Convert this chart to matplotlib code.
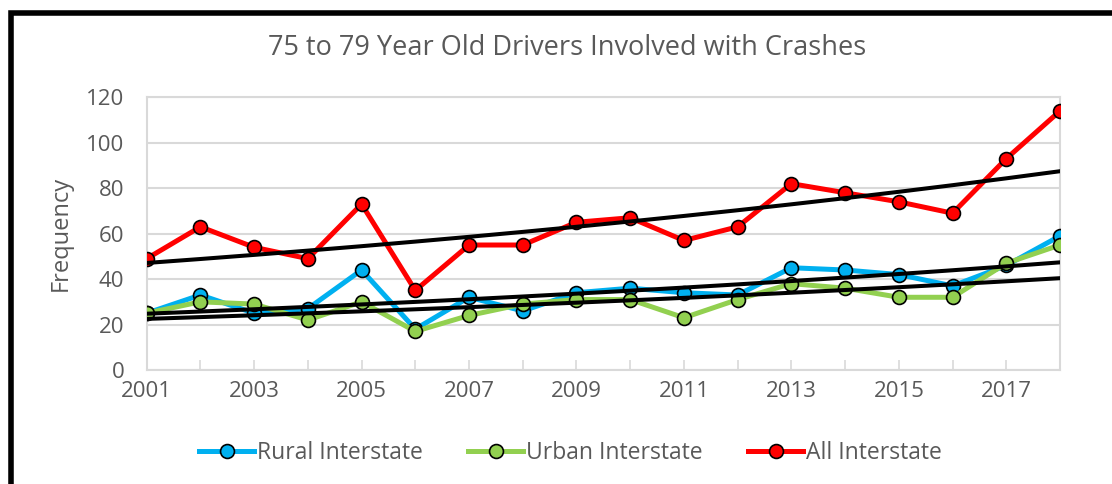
import numpy as np
import matplotlib.pyplot as plt
from matplotlib.patches import Rectangle

# 75 to 79 year old drivers involved with crashes, by interstate type

years = np.arange(2001, 2019)
rural = [25, 33, 25, 27, 44, 18, 32, 26, 34, 36, 34, 33, 45, 44, 42, 37, 46, 59]
urban = [25, 30, 29, 22, 30, 17, 24, 29, 31, 31, 23, 31, 38, 36, 32, 32, 47, 55]
total = [49, 63, 54, 49, 73, 35, 55, 55, 65, 67, 57, 63, 82, 78, 74, 69, 93, 114]

series = [
    ("Rural Interstate", rural, "#00B0F0"),
    ("Urban Interstate", urban, "#92D050"),
    ("All Interstate", total, "#FF0000"),
]

plt.rcParams['font.family'] = ['Open Sans', 'DejaVu Sans']
txt = '#595959'
grid = '#D9D9D9'

fig = plt.figure(figsize=(11.12, 4.84), dpi=100)
ax = fig.add_axes([146.7 / 1112, 1 - 370 / 484, (1060 - 146.7) / 1112, (370 - 97.3) / 484])

for name, vals, col in series:
    ax.plot(years, vals, color=col, lw=3.6, marker='o', ms=10,
            mfc=col, mec='black', mew=1.2, label=name, zorder=3)

# exponential trend lines (like excel)
t = years - years[0]
for name, vals, col in series:
    b, a = np.polyfit(t, np.log(vals), 1)
    ax.plot(years, np.exp(a) * np.exp(b * t), color='black', lw=2.9, zorder=4)

ax.set_xlim(2001, 2018)
ax.set_ylim(0, 120)
ax.set_yticks(np.arange(0, 121, 20))
ax.set_xticks(years)
ax.set_xticklabels([str(y) if (y - 2001) % 2 == 0 else '' for y in years])
ax.yaxis.grid(True, color=grid, lw=1.5)
ax.set_axisbelow(True)
for s in ax.spines.values():
    s.set_color(grid)
    s.set_linewidth(1.5)
ax.tick_params(axis='x', direction='in', length=7, color=grid, width=1.2,
               labelsize=16, labelcolor=txt, pad=8)
ax.tick_params(axis='y', length=0, labelsize=16, labelcolor=txt, pad=16)
ax.set_ylabel('Frequency', fontsize=17, color=txt, labelpad=10)

fig.text(0.51, 1 - 48 / 484, '75 to 79 Year Old Drivers Involved with Crashes',
         ha='center', va='center', fontsize=19.5, color=txt)

leg = fig.legend(loc='center', bbox_to_anchor=(0.513, 1 - 453 / 484), ncol=3,
                 frameon=False, fontsize=16.5, handlelength=2.4, handletextpad=0.1,
                 columnspacing=2.0, labelcolor=txt)

# black frame around the chart (cut off at the right and bottom)
fig.patches.append(Rectangle((10.5 / 1112, -0.1), 1.2, 1 - 12.5 / 484 + 0.1,
                             transform=fig.transFigure, fill=False,
                             edgecolor='black', lw=4, zorder=10))

fig.savefig('out.png', dpi=100)
